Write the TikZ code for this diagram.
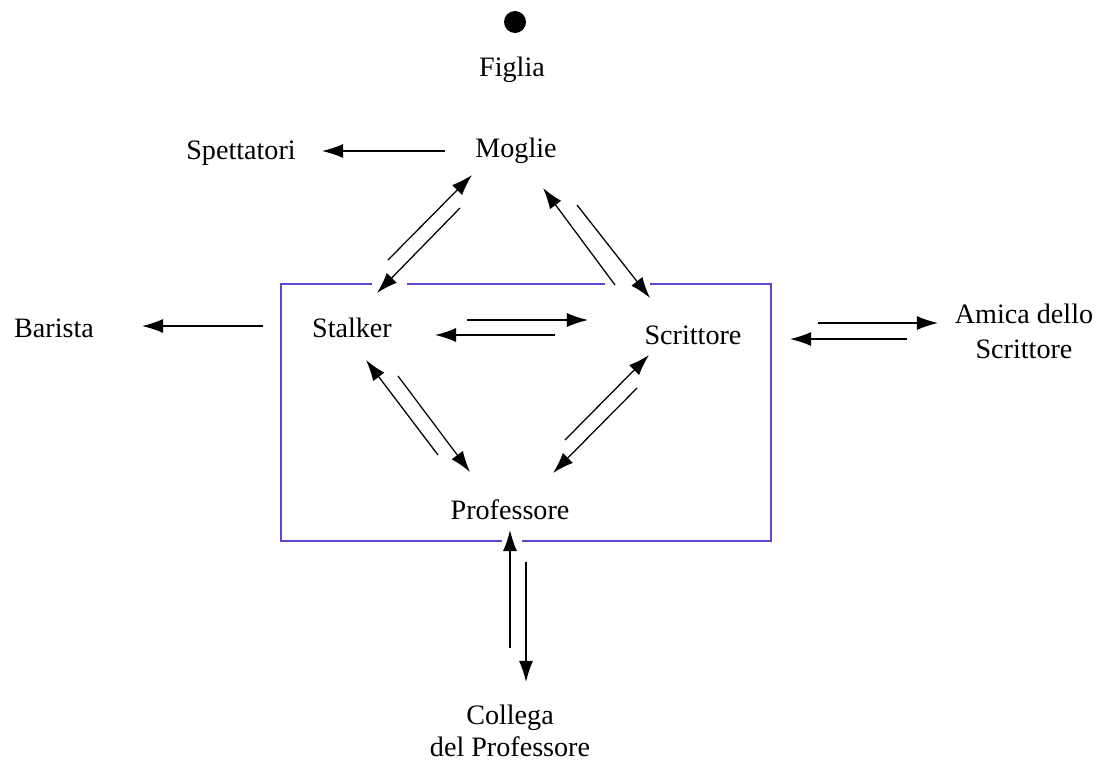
\documentclass[tikz,border=0pt]{standalone}
\usepackage{fontspec}
\setmainfont{Liberation Serif}
\usetikzlibrary{arrows.meta}
\definecolor{boxblue}{RGB}{88,72,210}
\tikzset{
  role/.style={font=\fontsize{20}{25}\selectfont, inner sep=0pt, align=center},
  link/.style={line width=0.9pt, -{Latex[length=15pt,width=10pt]}},
  frame/.style={boxblue, line width=1.2pt},
}

\begin{document}
\begin{tikzpicture}[x=0.025cm,y=-0.025cm]
\useasboundingbox (0,0) rectangle (1108,763);
% characters
\node[circle,fill,inner sep=0pt,minimum size=0.55cm] (dot) at (515,22) {};
\node[role] (figlia) at (512,70) {Figlia};
\node[role] (moglie) at (516,151) {Moglie};
\node[role] (spett) at (241,153) {Spettatori};
\node[role] (barista) at (54,328) {Barista};
\node[role] (stalker) at (352,328) {Stalker};
\node[role] (scritt) at (693,335) {Scrittore};
\node[role] (amica) at (1024,331) {Amica dello\\Scrittore};
\node[role] (prof) at (510,510) {Professore};
\node[role, font=\fontsize{20}{23}\selectfont] (collega) at (510,731) {Collega\\del Professore};
% frame with gaps
\draw[frame] (372,284) -- (281,284) -- (281,541) -- (502,541);
\draw[frame] (522,541) -- (771,541) -- (771,284) -- (650,284);
\draw[frame] (605,284) -- (407,284);
% arrow ends
\coordinate (ms1) at (445,151); \coordinate (ms2) at (322,151);
\coordinate (sm1) at (388,260); \coordinate (sm2) at (472,175);
\coordinate (ms3) at (460,208); \coordinate (ms4) at (377,293);
\coordinate (cm1) at (615,285); \coordinate (cm2) at (543,188);
\coordinate (mc1) at (577,205); \coordinate (mc2) at (650,298);
\coordinate (sc1) at (467,320); \coordinate (sc2) at (588,320);
\coordinate (cs1) at (555,335); \coordinate (cs2) at (435,335);
\coordinate (pc1) at (565,440); \coordinate (pc2) at (649,355);
\coordinate (cp1) at (637,388); \coordinate (cp2) at (553,473);
\coordinate (ps1) at (438,455); \coordinate (ps2) at (366,360);
\coordinate (sp1) at (398,376); \coordinate (sp2) at (470,472);
\coordinate (kp1) at (510,648); \coordinate (kp2) at (510,530);
\coordinate (pk1) at (526,562); \coordinate (pk2) at (526,682);
\coordinate (ca1) at (818,323); \coordinate (ca2) at (938,323);
\coordinate (ac1) at (907,339); \coordinate (ac2) at (790,339);
\coordinate (sb1) at (263,326); \coordinate (sb2) at (142,326);
% relations
\draw[link] (ms1) -- (ms2);
\draw[link] (sm1) -- (sm2);
\draw[link] (ms3) -- (ms4);
\draw[link] (cm1) -- (cm2);
\draw[link] (mc1) -- (mc2);
\draw[link] (sc1) -- (sc2);
\draw[link] (cs1) -- (cs2);
\draw[link] (pc1) -- (pc2);
\draw[link] (cp1) -- (cp2);
\draw[link] (ps1) -- (ps2);
\draw[link] (sp1) -- (sp2);
\draw[link] (kp1) -- (kp2);
\draw[link] (pk1) -- (pk2);
\draw[link] (ca1) -- (ca2);
\draw[link] (ac1) -- (ac2);
\draw[link] (sb1) -- (sb2);
\end{tikzpicture}
\end{document}
